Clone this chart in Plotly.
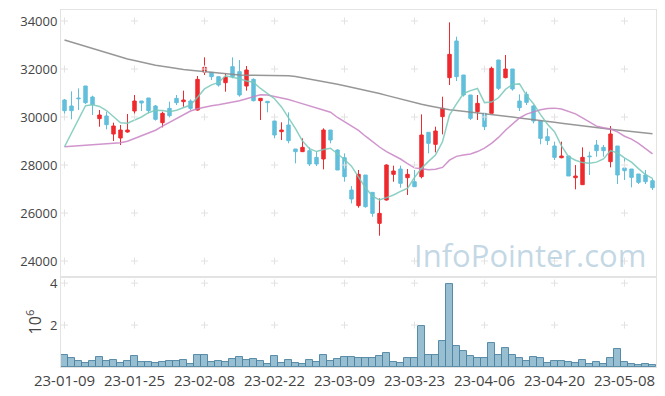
import pandas as pd
import plotly.graph_objects as go

# ---- data -------------------------------------------------------------
holidays = ["2023-01-23", "2023-01-24", "2023-03-01", "2023-05-01", "2023-05-05"]
dates = [d.strftime("%Y-%m-%d") for d in pd.bdate_range("2023-01-09", "2023-05-12")
         if d.strftime("%Y-%m-%d") not in holidays]

open_ = [30708, 30458, 30792, 31292, 30833, 29931, 30042, 29292, 29125, 29375,
         30250, 30667, 30792, 30458, 29764, 30361, 30778, 30639, 30667, 30291,
         31875, 31861, 31680, 31430, 32097, 31889, 31291, 31569, 30680, 30653,
         29833, 29389, 29667, 28667, 28556, 28597, 28319, 28250, 29458, 28625,
         28305, 26958, 26306, 27583, 26861, 25569, 26542, 27611, 27833, 27472,
         27306, 27514, 29361, 28861, 30014, 31639, 33167, 31750, 30917, 30222,
         30153, 30153, 32375, 31639, 32000, 30667, 30944, 30458, 29833, 29180,
         28792, 28305, 28375, 27472, 27181, 28375, 28833, 28736, 28139, 28792,
         27875, 27833, 27625, 27583, 27347]
high = [30750, 31069, 31194, 31292, 30889, 30292, 30222, 29764, 29667, 30125,
        30917, 30667, 30792, 30500, 30222, 30639, 30917, 31097, 30736, 31708,
        32486, 31861, 31680, 31819, 32486, 32375, 32125, 31611, 30778, 30653,
        30055, 29778, 30194, 28667, 29111, 28736, 28556, 29528, 29458, 28653,
        28486, 27125, 27792, 27583, 26861, 26611, 28028, 27972, 27972, 27833,
        27792, 30111, 29361, 29597, 30847, 33944, 33347, 31750, 30917, 30917,
        30153, 32097, 32375, 32583, 32000, 30944, 31055, 30500, 29875, 29528,
        28972, 28972, 28375, 27997, 28736, 28556, 29042, 28833, 29625, 28792,
        28278, 27833, 27625, 27792, 27444]
low = [29903, 29903, 30292, 30540, 30083, 29597, 29486, 29000, 28833, 29347,
       30042, 30250, 30153, 29850, 29569, 29986, 30500, 30430, 30292, 30264,
       31750, 31541, 31264, 31055, 31611, 30847, 31097, 30650, 29875, 30194,
       29111, 29042, 28903, 28069, 28556, 27958, 27958, 27819, 28903, 27792,
       27305, 26400, 26222, 26222, 25847, 25056, 26514, 27305, 27055, 26750,
       27097, 27444, 28486, 28528, 29278, 31333, 31500, 30850, 29875, 29875,
       29458, 30153, 31125, 31611, 31097, 30250, 30500, 29736, 28861, 28833,
       28208, 28278, 27542, 26986, 27181, 27583, 28347, 28347, 27903, 27208,
       27375, 27069, 27208, 27208, 26958]
close = [30264, 30264, 30764, 30597, 30514, 30083, 29681, 29625, 29458, 29458,
         30667, 30583, 30264, 29903, 30153, 30055, 30597, 30708, 30361, 31569,
         32069, 31680, 31333, 31653, 31680, 30916, 31958, 30680, 30778, 30597,
         29250, 29458, 29014, 28556, 28736, 28042, 28042, 29458, 29042, 27792,
         27514, 26583, 27611, 26264, 25986, 25986, 28000, 27750, 27236, 27611,
         27097, 29250, 28903, 29417, 30361, 32611, 31680, 30917, 29944, 30569,
         29597, 32028, 31194, 32000, 31167, 30389, 30611, 29833, 29111, 29014,
         28319, 28375, 27542, 27542, 28319, 28347, 28597, 28597, 29292, 27583,
         27764, 27486, 27278, 27305, 27055]

ma5 = [28760, 29330, 29900, 30470, 30510, 30440, 30270, 30000, 29760, 29740,
       29860, 30000, 30180, 30280, 30270, 30220, 30280, 30380, 30500, 30820,
       31170, 31340, 31440, 31720, 31660, 31590, 31500, 31450, 31190, 30980,
       30760, 30420, 29980, 29520, 29000, 28680, 28560, 28650, 28700, 28480,
       28230, 27950, 27470, 27050, 26700, 26550, 26640, 26750, 26900, 27030,
       27480, 27860, 28150, 28420, 28970, 30080, 30550, 30980, 31100, 31190,
       30600, 30620, 30800, 31150, 31360, 31380, 30900, 30550, 30100, 29700,
       29390, 28800, 28350, 28200, 28100, 28070, 28120, 28250, 28600, 28500,
       28300, 28120, 27850, 27600, 27440]
ma20 = [28760, 28780, 28800, 28820, 28840, 28860, 28880, 28900, 28930, 28990,
        29100, 29210, 29320, 29450, 29620, 29780, 29950, 30100, 30250, 30340,
        30420, 30470, 30510, 30560, 30610, 30680, 30760, 30850, 30930, 30920,
        30860, 30800, 30730, 30640, 30550, 30460, 30380, 30300, 30200, 29980,
        29800, 29620, 29440, 29200, 28960, 28750, 28560, 28420, 28250, 28060,
        27880, 27840, 27800, 27820, 27900, 28200, 28360, 28420, 28460, 28560,
        28700, 28900, 29150, 29450, 29700, 29960, 30120, 30220, 30300, 30350,
        30370, 30330, 30240, 30130, 29960, 29780, 29620, 29550, 29500, 29380,
        29200, 29080, 28900, 28680, 28460]
ma120 = [33210, 33120, 33030, 32940, 32850, 32760, 32660, 32570, 32490, 32420,
         32350, 32280, 32220, 32160, 32110, 32060, 32020, 31980, 31950, 31920,
         31880, 31850, 31820, 31790, 31760, 31750, 31740, 31740, 31740, 31740,
         31735, 31730, 31720, 31690, 31640, 31590, 31540, 31480, 31420, 31360,
         31300, 31240, 31170, 31110, 31050, 30980, 30900, 30820, 30740, 30660,
         30590, 30530, 30470, 30410, 30350, 30300, 30270, 30240, 30210, 30170,
         30130, 30100, 30070, 30040, 30000, 29960, 29930, 29890, 29850, 29810,
         29780, 29740, 29700, 29660, 29620, 29580, 29550, 29520, 29490, 29460,
         29430, 29400, 29370, 29340, 29300]

volume = [548e3, 435e3, 290e3, 194e3, 290e3, 484e3, 290e3, 355e3, 194e3, 290e3,
          532e3, 242e3, 242e3, 194e3, 242e3, 290e3, 290e3, 355e3, 145e3, 581e3,
          581e3, 242e3, 290e3, 242e3, 387e3, 484e3, 355e3, 387e3, 290e3, 145e3,
          532e3, 194e3, 355e3, 194e3, 145e3, 355e3, 242e3, 581e3, 290e3, 387e3,
          484e3, 484e3, 435e3, 435e3, 435e3, 532e3, 677e3, 242e3, 194e3, 435e3,
          435e3, 1935e3, 581e3, 581e3, 1258e3, 3935e3, 1016e3, 774e3, 532e3, 435e3,
          435e3, 1161e3, 581e3, 919e3, 581e3, 435e3, 290e3, 484e3, 435e3, 194e3,
          290e3, 290e3, 242e3, 194e3, 339e3, 145e3, 242e3, 145e3, 435e3, 871e3,
          242e3, 145e3, 97e3, 145e3, 97e3]

price_ticks = [24000, 26000, 28000, 30000, 32000, 34000]
vol_ticks = [2e6, 4e6]
vol_tick_text = ["2", "4"]
xtick_vals = dates[::10]
xtick_text = [d[2:] for d in xtick_vals]

# ---- figure -----------------------------------------------------------
RED = "#ee2a2e"
BLUE = "#62bfdc"
GRID = "#e3e3e3"
CROSS = "#e2e2e2"
TXT = "#444444"

fig = go.Figure()

fig.add_trace(go.Scatter(x=dates, y=ma120, mode="lines",
                         line=dict(color="rgba(140,140,140,0.9)", width=1.5),
                         hoverinfo="skip", showlegend=False))
fig.add_trace(go.Scatter(x=dates, y=ma20, mode="lines",
                         line=dict(color="rgba(200,130,195,0.85)", width=1.5),
                         hoverinfo="skip", showlegend=False))
fig.add_trace(go.Scatter(x=dates, y=ma5, mode="lines",
                         line=dict(color="rgba(120,200,185,0.85)", width=1.5),
                         hoverinfo="skip", showlegend=False))

# grid crosses
gx, gy = [], []
for xv in xtick_vals:
    for yv in price_ticks:
        gx.append(xv); gy.append(yv)
fig.add_trace(go.Scatter(x=gx, y=gy, mode="markers",
                         marker=dict(symbol="cross-thin", size=5,
                                     line=dict(color=CROSS, width=1)),
                         hoverinfo="skip", showlegend=False, xaxis="x", yaxis="y"))

fig.add_trace(go.Candlestick(
    x=dates, open=open_, high=high, low=low, close=close,
    increasing=dict(line=dict(color=RED, width=1), fillcolor=RED),
    decreasing=dict(line=dict(color=BLUE, width=1), fillcolor=BLUE),
    whiskerwidth=0, showlegend=False, xaxis="x", yaxis="y"))

vx, vy = [], []
for xv in xtick_vals:
    for yv in vol_ticks:
        vx.append(xv); vy.append(yv)
fig.add_trace(go.Scatter(x=vx, y=vy, mode="markers", xaxis="x2", yaxis="y2",
                         marker=dict(symbol="cross-thin", size=5,
                                     line=dict(color=CROSS, width=1)),
                         hoverinfo="skip", showlegend=False))
fig.add_trace(go.Bar(x=dates, y=volume, xaxis="x2", yaxis="y2",
                     marker=dict(color="rgba(145,188,207,0.95)",
                                 line=dict(color="rgba(75,130,160,0.9)", width=1)),
                     showlegend=False))

axis_common = dict(showgrid=False, zeroline=False, showline=True, linecolor=GRID,
                   linewidth=1, mirror=True, ticks="", automargin=False)

fig.update_layout(
    width=665, height=396,
    margin=dict(l=61, r=9, t=10, b=29),
    paper_bgcolor="white", plot_bgcolor="white",
    font=dict(family="Open Sans, sans-serif", size=13, color=TXT),
    bargap=0,
    xaxis=dict(type="category", categoryorder="array", categoryarray=dates,
               domain=[0, 1], anchor="y", showticklabels=False,
               rangeslider=dict(visible=False),
               range=[-0.5, len(dates) - 0.5], **axis_common),
    yaxis=dict(domain=[0.252, 1], range=[23333, 34458], tickvals=price_ticks,
               ticktext=[str(v) for v in price_ticks], anchor="x", **axis_common),
    xaxis2=dict(type="category", categoryorder="array", categoryarray=dates,
                domain=[0, 1], anchor="y2", matches="x",
                tickvals=xtick_vals, ticktext=xtick_text, tickangle=0,
                tickfont=dict(size=15), **axis_common),
    yaxis2=dict(domain=[0, 0.252], range=[0, 4.29e6], tickvals=vol_ticks,
                ticktext=vol_tick_text, anchor="x2",
                title=dict(text="10<sup>6</sup>", standoff=4), **axis_common),
    annotations=[dict(text="InfoPointer.com", xref="paper", yref="paper",
                      x=0.987, y=0.313, xanchor="right", yanchor="middle",
                      showarrow=False,
                      font=dict(size=31, color="rgba(155,190,210,0.6)",
                                family="Open Sans, sans-serif"))],
)

fig.write_html("out.html", config={"displayModeBar": False},
               post_script="document.body.style.margin='0';document.body.style.padding='0';")
